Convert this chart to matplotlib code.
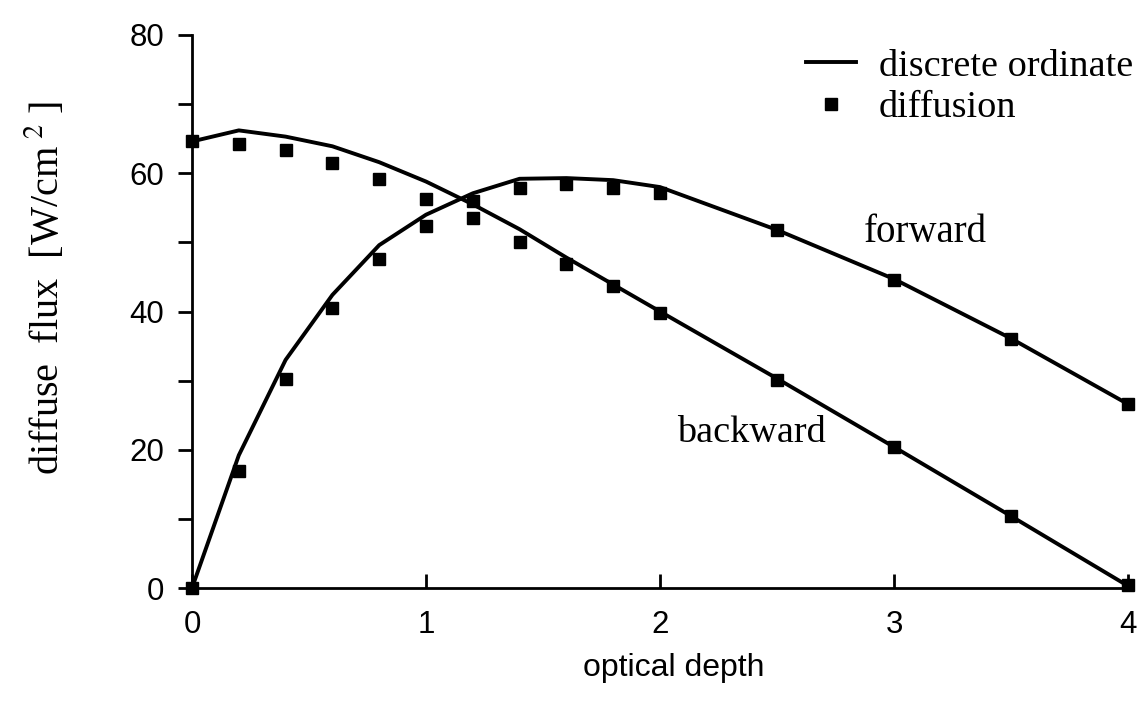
import numpy as np
import matplotlib
matplotlib.use('Agg')
import matplotlib.pyplot as plt

plt.rcParams['mathtext.fontset'] = 'stix'

# optical depth grid used by both methods
depth = [0, 0.2, 0.4, 0.6, 0.8, 1.0, 1.2, 1.4, 1.6, 1.8, 2.0, 2.5, 3.0, 3.5, 4.0]

# discrete ordinate solution
fwd_do = [0, 19.2, 33.0, 42.4, 49.6, 54.0, 57.1, 59.2, 59.3, 59.0, 58.0, 51.8, 44.7, 36.1, 26.6]
bwd_do = [64.6, 66.2, 65.3, 63.9, 61.6, 58.8, 55.5, 51.9, 47.8, 43.9, 40.0, 30.3, 20.4, 10.4, 0.3]

# diffusion approximation
fwd_diff = [0, 16.9, 30.2, 40.5, 47.6, 52.4, 56.0, 57.9, 58.4, 57.9, 57.1, 51.8, 44.6, 36.0, 26.6]
bwd_diff = [64.6, 64.2, 63.4, 61.5, 59.2, 56.3, 53.5, 50.1, 46.9, 43.7, 39.8, 30.1, 20.4, 10.4, 0.5]

serif = 'Liberation Serif'
sans = 'Liberation Sans'

fig = plt.figure(figsize=(11.4, 7.1), dpi=100)
ax = fig.add_axes([192/1140, 1 - 588/710, 936/1140, 553/710])

ax.plot(depth, fwd_do, color='black', lw=2.8, label='discrete ordinate', clip_on=False)
ax.plot(depth, bwd_do, color='black', lw=2.8, clip_on=False)
ax.plot(depth, fwd_diff, 's', color='black', ms=8, label='diffusion', clip_on=False)
ax.plot(depth, bwd_diff, 's', color='black', ms=8, clip_on=False)

ax.set_xlim(0, 4)
ax.set_ylim(0, 80)

[ax.spines[loc].set_color("none") for loc in ["top", "right"]]
for loc in ["left", "bottom"]:
    ax.spines[loc].set_linewidth(2)

ax.set_xticks([0, 1, 2, 3, 4])
ax.set_yticks(np.arange(0, 81, 10))
ax.set_yticklabels(['0', '', '20', '', '40', '', '60', '', '80'])
ax.tick_params(axis='x', direction='in', length=10, width=2, pad=16, labelsize=22.5)
ax.tick_params(axis='y', direction='out', length=10, width=2, pad=10, labelsize=22.5)
for lab in ax.get_xticklabels() + ax.get_yticklabels():
    lab.set_family(sans)

ax.set_xlabel('optical depth', fontsize=23, family=sans)
ax.xaxis.set_label_coords(0.515, -0.117)
ax.set_ylabel(r'diffuse  flux  [W/cm$^{\ 2}$ ]', fontsize=29, family=serif)
ax.yaxis.set_label_coords(-0.134, 0.542)

ax.text(2.87, 51.5, 'forward', fontsize=28, family=serif, va='center', ha='left')
ax.text(2.075, 22.4, 'backward', fontsize=27.5, family=serif, va='center', ha='left')

leg = ax.legend(loc='upper left', bbox_to_anchor=(806/1140, 1 - 49/710),
                bbox_transform=fig.transFigure, frameon=False,
                prop={'family': serif, 'size': 27.5}, handlelength=1.3,
                handletextpad=0.6, labelspacing=0.18, borderpad=0, borderaxespad=0)

plt.savefig('out.png', dpi=100)
